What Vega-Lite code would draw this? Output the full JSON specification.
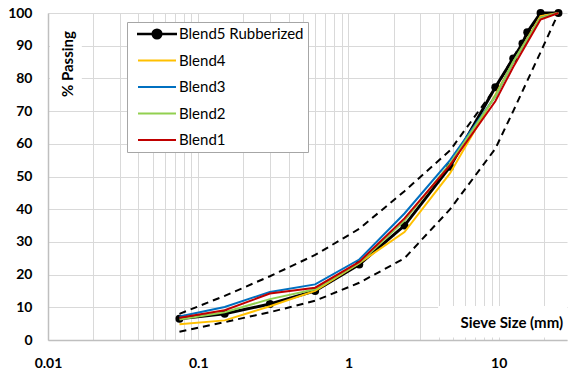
{
  "$schema": "https://vega.github.io/schema/vega-lite/v6.json",
  "width": 519,
  "height": 327,
  "autosize": "none",
  "padding": {"left": 48, "top": 13, "right": 2, "bottom": 31},
  "config": {"font": "Lato", "view": {"stroke": null}},
  "data": {
    "values": [
      {"series": "Upper", "size": 0.075, "pct": 8},
      {"series": "Upper", "size": 0.15, "pct": 13.5},
      {"series": "Upper", "size": 0.3, "pct": 19.5},
      {"series": "Upper", "size": 0.6, "pct": 26},
      {"series": "Upper", "size": 1.18, "pct": 34},
      {"series": "Upper", "size": 2.36, "pct": 45.5},
      {"series": "Upper", "size": 4.75, "pct": 58},
      {"series": "Upper", "size": 9.5, "pct": 77},
      {"series": "Upper", "size": 12.5, "pct": 86.5},
      {"series": "Upper", "size": 19, "pct": 100},
      {"series": "Upper", "size": 25, "pct": 100},
      {"series": "Lower", "size": 0.075, "pct": 2.5},
      {"series": "Lower", "size": 0.15, "pct": 5.5},
      {"series": "Lower", "size": 0.3, "pct": 8.5},
      {"series": "Lower", "size": 0.6, "pct": 12},
      {"series": "Lower", "size": 1.18, "pct": 17.5},
      {"series": "Lower", "size": 2.36, "pct": 25},
      {"series": "Lower", "size": 4.75, "pct": 40},
      {"series": "Lower", "size": 9.5, "pct": 58.5},
      {"series": "Lower", "size": 12.5, "pct": 70},
      {"series": "Lower", "size": 19, "pct": 88},
      {"series": "Lower", "size": 25, "pct": 100},
      {"series": "Blend5 Rubberized", "size": 0.075, "pct": 6.5},
      {"series": "Blend5 Rubberized", "size": 0.15, "pct": 8},
      {"series": "Blend5 Rubberized", "size": 0.3, "pct": 11},
      {"series": "Blend5 Rubberized", "size": 0.6, "pct": 15},
      {"series": "Blend5 Rubberized", "size": 1.18, "pct": 23.1},
      {"series": "Blend5 Rubberized", "size": 2.36, "pct": 35},
      {"series": "Blend5 Rubberized", "size": 4.75, "pct": 53},
      {"series": "Blend5 Rubberized", "size": 9.5, "pct": 77.3},
      {"series": "Blend5 Rubberized", "size": 12.5, "pct": 86.1},
      {"series": "Blend5 Rubberized", "size": 14.4, "pct": 90.7},
      {"series": "Blend5 Rubberized", "size": 15.5, "pct": 94.1},
      {"series": "Blend5 Rubberized", "size": 19, "pct": 100},
      {"series": "Blend5 Rubberized", "size": 25, "pct": 100},
      {"series": "Blend4", "size": 0.075, "pct": 4.8},
      {"series": "Blend4", "size": 0.15, "pct": 6},
      {"series": "Blend4", "size": 0.3, "pct": 10.3},
      {"series": "Blend4", "size": 0.6, "pct": 15},
      {"series": "Blend4", "size": 1.18, "pct": 23.5},
      {"series": "Blend4", "size": 2.36, "pct": 33},
      {"series": "Blend4", "size": 4.75, "pct": 51},
      {"series": "Blend4", "size": 9.5, "pct": 75},
      {"series": "Blend4", "size": 12.5, "pct": 85},
      {"series": "Blend4", "size": 19, "pct": 99},
      {"series": "Blend4", "size": 25, "pct": 100},
      {"series": "Blend3", "size": 0.075, "pct": 7.2},
      {"series": "Blend3", "size": 0.15, "pct": 10.1},
      {"series": "Blend3", "size": 0.3, "pct": 14.7},
      {"series": "Blend3", "size": 0.6, "pct": 17},
      {"series": "Blend3", "size": 1.18, "pct": 24.6},
      {"series": "Blend3", "size": 2.36, "pct": 38.7},
      {"series": "Blend3", "size": 4.75, "pct": 55},
      {"series": "Blend3", "size": 9.5, "pct": 74.5},
      {"series": "Blend3", "size": 12.5, "pct": 85},
      {"series": "Blend3", "size": 19, "pct": 98.5},
      {"series": "Blend3", "size": 25, "pct": 100},
      {"series": "Blend2", "size": 0.075, "pct": 6.3},
      {"series": "Blend2", "size": 0.15, "pct": 8.5},
      {"series": "Blend2", "size": 0.3, "pct": 12.5},
      {"series": "Blend2", "size": 0.6, "pct": 15.5},
      {"series": "Blend2", "size": 1.18, "pct": 23.5},
      {"series": "Blend2", "size": 2.36, "pct": 36.5},
      {"series": "Blend2", "size": 4.75, "pct": 54},
      {"series": "Blend2", "size": 9.5, "pct": 74.5},
      {"series": "Blend2", "size": 12.5, "pct": 85},
      {"series": "Blend2", "size": 19, "pct": 98.5},
      {"series": "Blend2", "size": 25, "pct": 100},
      {"series": "Blend1", "size": 0.075, "pct": 6.8},
      {"series": "Blend1", "size": 0.15, "pct": 9.1},
      {"series": "Blend1", "size": 0.3, "pct": 14.2},
      {"series": "Blend1", "size": 0.6, "pct": 16},
      {"series": "Blend1", "size": 1.18, "pct": 23.9},
      {"series": "Blend1", "size": 2.36, "pct": 37.2},
      {"series": "Blend1", "size": 4.75, "pct": 53.5},
      {"series": "Blend1", "size": 9.5, "pct": 73},
      {"series": "Blend1", "size": 12.5, "pct": 83.5},
      {"series": "Blend1", "size": 19, "pct": 98},
      {"series": "Blend1", "size": 25, "pct": 100}
    ]
  },
  "encoding": {
    "x": {
      "field": "size",
      "type": "quantitative",
      "scale": {"type": "log", "domain": [0.01, 28.5], "nice": false},
      "axis": {
        "values": [0.01, 0.02, 0.03, 0.04, 0.05, 0.06, 0.07, 0.08, 0.09, 0.1, 0.2, 0.3, 0.4, 0.5, 0.6, 0.7, 0.8, 0.9, 1, 2, 3, 4, 5, 6, 7, 8, 9, 10, 20],
        "labelExpr": "(datum.value == 0.01 || datum.value == 0.1 || datum.value == 1 || datum.value == 10) ? datum.label : ''",
        "format": "~g",
        "grid": true,
        "gridColor": "#D9D9D9",
        "ticks": false,
        "domainColor": "#BFBFBF",
        "domainWidth": 1.5,
        "labelFontSize": 14,
        "labelFontWeight": "bold",
        "labelColor": "black",
        "labelPadding": 16,
        "labelFlush": false,
        "labelOverlap": false,
        "title": null
      }
    },
    "y": {
      "field": "pct",
      "type": "quantitative",
      "scale": {"domain": [0, 100], "nice": false},
      "axis": {
        "values": [0, 10, 20, 30, 40, 50, 60, 70, 80, 90, 100],
        "grid": true,
        "gridColor": "#D9D9D9",
        "ticks": false,
        "domainColor": "#BFBFBF",
        "domainWidth": 1.5,
        "labelFontSize": 14,
        "labelFontWeight": "bold",
        "labelColor": "black",
        "labelPadding": 16,
        "labelOverlap": false,
        "title": null
      }
    }
  },
  "layer": [
    {
      "transform": [{"filter": "datum.series == 'Upper' || datum.series == 'Lower'"}],
      "mark": {"type": "line", "color": "black", "strokeWidth": 2, "strokeDash": [7, 5]},
      "encoding": {"detail": {"field": "series"}}
    },
    {
      "transform": [{"filter": "datum.series == 'Blend1' && datum.size == 25"}],
      "mark": {"type": "rect", "color": "white"},
      "encoding": {
        "x": {"datum": 3.95},
        "x2": {"datum": 28.5},
        "y": {"datum": 0.8},
        "y2": {"datum": 10.4}
      }
    },
    {
      "transform": [{"filter": "datum.series == 'Blend1' && datum.size == 25"}],
      "mark": {"type": "rect", "color": "white"},
      "encoding": {
        "x": {"datum": 0.0103},
        "x2": {"datum": 0.0168},
        "y": {"datum": 72},
        "y2": {"datum": 97.5}
      }
    },
    {
      "transform": [{"filter": "datum.series == 'Blend1' && datum.size == 25"}],
      "mark": {"type": "text", "text": "Sieve Size (mm)", "align": "right", "baseline": "middle", "fontSize": 15, "fontWeight": "bold", "color": "black"},
      "encoding": {
        "x": {"datum": 26.85},
        "y": {"datum": 5.2}
      }
    },
    {
      "transform": [{"filter": "datum.series == 'Blend1' && datum.size == 25"}],
      "mark": {"type": "text", "text": "% Passing", "align": "center", "baseline": "middle", "angle": 270, "fontSize": 15, "fontWeight": "bold", "color": "black"},
      "encoding": {
        "x": {"datum": 0.0136},
        "y": {"datum": 84.4}
      }
    },
    {
      "transform": [{"filter": "datum.series == 'Blend5 Rubberized'"}],
      "mark": {"type": "line", "strokeWidth": 3},
      "encoding": {
        "color": {
          "field": "series",
          "type": "nominal",
          "scale": {
            "domain": ["Blend5 Rubberized", "Blend4", "Blend3", "Blend2", "Blend1"],
            "range": ["#000000", "#FFC000", "#0070C0", "#92D050", "#C00000"]
          },
          "legend": {
            "orient": "none",
            "legendX": 79,
            "legendY": 9,
            "zindex": 2,
            "title": null,
            "symbolType": "stroke",
            "symbolSize": 1444,
            "symbolStrokeWidth": 2,
            "symbolOffset": 6,
            "clipHeight": 16,
            "labelFontSize": 15,
            "labelColor": "black",
            "labelOffset": 2,
            "rowPadding": 10.5,
            "padding": 4,
            "strokeColor": "#A6A6A6",
            "fillColor": "white",
            "encode": {
              "symbols": {
                "update": {
                  "shape": {"signal": "datum.value === 'Blend5 Rubberized' ? 'M-1,-0.015L1,-0.015L1,0.015L-1,0.015Z M0.24,0A0.24,0.24,0,1,1,-0.24,0A0.24,0.24,0,1,1,0.24,0Z' : 'stroke'"},
                  "fill": {"signal": "datum.value === 'Blend5 Rubberized' ? 'black' : 'transparent'"}
                }
              }
            }
          }
        }
      }
    },
    {
      "transform": [{"filter": "datum.series == 'Blend5 Rubberized'"}],
      "mark": {"type": "circle", "color": "black", "size": 64, "opacity": 1}
    },
    {
      "transform": [{"filter": "datum.series == 'Blend4'"}],
      "mark": {"type": "line", "strokeWidth": 2},
      "encoding": {"color": {"field": "series", "type": "nominal"}}
    },
    {
      "transform": [{"filter": "datum.series == 'Blend3'"}],
      "mark": {"type": "line", "strokeWidth": 2},
      "encoding": {"color": {"field": "series", "type": "nominal"}}
    },
    {
      "transform": [{"filter": "datum.series == 'Blend2'"}],
      "mark": {"type": "line", "strokeWidth": 2},
      "encoding": {"color": {"field": "series", "type": "nominal"}}
    },
    {
      "transform": [{"filter": "datum.series == 'Blend1'"}],
      "mark": {"type": "line", "strokeWidth": 2},
      "encoding": {"color": {"field": "series", "type": "nominal"}}
    }
  ]
}
